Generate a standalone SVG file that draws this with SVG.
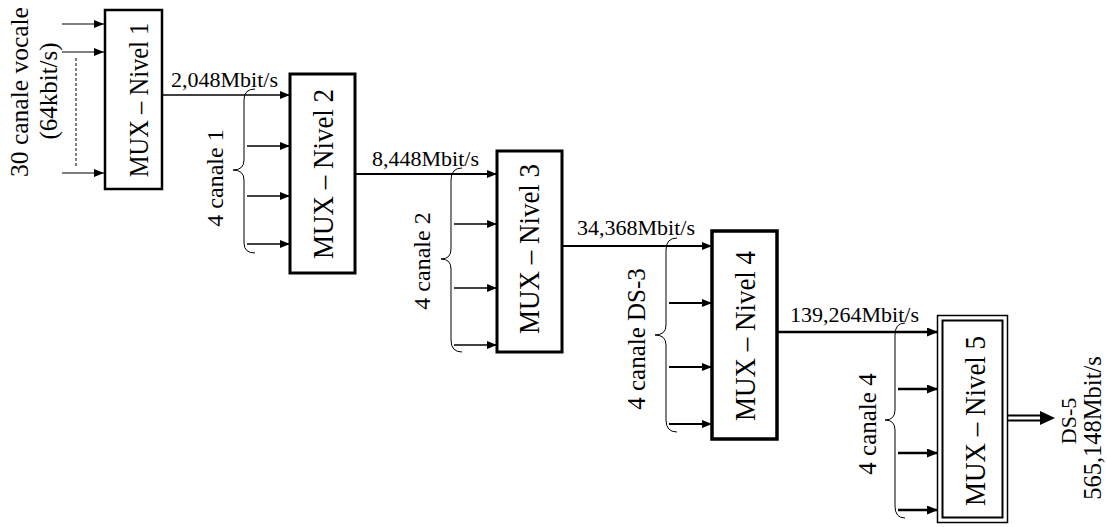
<svg xmlns="http://www.w3.org/2000/svg" width="1107" height="527" viewBox="0 0 1107 527">
<style>
text{font-family:"Liberation Serif","Times New Roman",serif;fill:#000}
.mux{text-anchor:middle}
.lbl{font-size:22px}
.vt{text-anchor:middle}
.box{fill:#fff;stroke:#000}
.ln{stroke:#000;fill:none}
.brace{stroke:#000;fill:none;stroke-width:1}
</style>
<defs>
<marker id="ah" markerUnits="userSpaceOnUse" markerWidth="11" markerHeight="9" refX="10" refY="4" orient="auto">
<path d="M0,0 L10,4 L0,8 z" fill="#000"/>
</marker>
<marker id="ah2" markerUnits="userSpaceOnUse" markerWidth="12" markerHeight="10" refX="11" refY="4.5" orient="auto">
<path d="M0,0 L11,4.5 L0,9 z" fill="#000"/>
</marker>
</defs>

<g id="connectors">
<line class="ln" x1="62" y1="24" x2="104" y2="24" stroke-width="1.2" marker-end="url(#ah)"/>
<line class="ln" x1="62" y1="52" x2="104" y2="52" stroke-width="1.2" marker-end="url(#ah)"/>
<line class="ln" x1="62" y1="173" x2="104" y2="173" stroke-width="1.2" stroke="#555" marker-end="url(#ah)"/>
<line class="ln" x1="76" y1="58" x2="76" y2="167" stroke-width="1" stroke-dasharray="3,2"/>
<line class="ln" x1="162" y1="95" x2="290" y2="95" stroke-width="1.7" marker-end="url(#ah)"/>
<line class="ln" x1="355" y1="174" x2="497" y2="174" stroke-width="2" marker-end="url(#ah)"/>
<line class="ln" x1="562" y1="246" x2="712" y2="246" stroke-width="2" marker-end="url(#ah)"/>
<line class="ln" x1="777" y1="332" x2="938" y2="332" stroke-width="2.7" marker-end="url(#ah2)"/>
<line class="ln" x1="247" y1="146" x2="290" y2="146" stroke-width="1.5" marker-end="url(#ah)"/>
<line class="ln" x1="247" y1="196" x2="290" y2="196" stroke-width="1.5" marker-end="url(#ah)"/>
<line class="ln" x1="247" y1="244" x2="290" y2="244" stroke-width="1.5" marker-end="url(#ah)"/>
<line class="ln" x1="454" y1="224" x2="497" y2="224" stroke-width="1.7" marker-end="url(#ah)"/>
<line class="ln" x1="454" y1="288" x2="497" y2="288" stroke-width="1.7" marker-end="url(#ah)"/>
<line class="ln" x1="454" y1="345" x2="497" y2="345" stroke-width="1.7" marker-end="url(#ah)"/>
<line class="ln" x1="669" y1="303" x2="712" y2="303" stroke-width="2" marker-end="url(#ah)"/>
<line class="ln" x1="669" y1="367" x2="712" y2="367" stroke-width="2" marker-end="url(#ah)"/>
<line class="ln" x1="669" y1="424" x2="712" y2="424" stroke-width="2" marker-end="url(#ah)"/>
<line class="ln" x1="898" y1="389" x2="938" y2="389" stroke-width="2.5" marker-end="url(#ah2)"/>
<line class="ln" x1="898" y1="453" x2="938" y2="453" stroke-width="2.5" marker-end="url(#ah2)"/>
<line class="ln" x1="898" y1="510" x2="938" y2="510" stroke-width="2.5" marker-end="url(#ah2)"/>
<line class="ln" x1="1008" y1="415.5" x2="1042" y2="415.5" stroke-width="1.8"/>
<line class="ln" x1="1008" y1="420.5" x2="1042" y2="420.5" stroke-width="1.8"/>
<path d="M1040,411 L1055,418 L1040,425 z" fill="#000"/>
</g>

<g id="braces">
<path class="brace" d="M255,89 Q244,89 244,100 L244,160 Q244,170 233,170 Q244,170 244,180 L244,243 Q244,253 255,253"/>
<path class="brace" d="M462,168 Q451,168 451,180 L451,249 Q451,259 441,259 Q451,259 451,269 L451,340 Q451,352 462,352"/>
<path class="brace" d="M677,238 Q666,238 666,250 L666,325 Q666,335 655,335 Q666,335 666,345 L666,420 Q666,432 677,432"/>
<path class="brace" d="M905,323 Q895,323 895,335 L895,410 Q895,420 885,420 Q895,420 895,430 L895,506 Q895,518 905,518"/>
</g>

<g id="labels">
<text class="lbl" x="171" y="87">2,048Mbit/s</text>
<text class="lbl" x="372" y="166">8,448Mbit/s</text>
<text class="lbl" x="577" y="235">34,368Mbit/s</text>
<text class="lbl" x="790" y="322">139,264Mbit/s</text>
<text class="vt" font-size="25.5" transform="translate(28,92) rotate(-90)">30 canale vocale</text>
<text class="vt" font-size="25" transform="translate(57,91) rotate(-90)">(64kbit/s)</text>
<text class="vt" font-size="24" transform="translate(223,178) rotate(-90)">4 canale 1</text>
<text class="vt" font-size="24" transform="translate(430,261) rotate(-90)">4 canale 2</text>
<text class="vt" font-size="25" transform="translate(645,339) rotate(-90)">4 canale DS-3</text>
<text class="vt" font-size="25" transform="translate(876,424) rotate(-90)">4 canale 4</text>
<text class="vt" font-size="22" transform="translate(1076,421) rotate(-90)">DS-5</text>
<text class="vt" font-size="24.5" transform="translate(1101,428) rotate(-90)">565,148Mbit/s</text>
</g>

<g id="mux1">
<rect class="box" x="105" y="10" width="57" height="179" stroke-width="2.5"/>
<text class="mux" font-size="24.5" transform="translate(148,100) rotate(-90) scale(1,1.1)">MUX – Nivel 1</text>
</g>
<g id="mux2">
<rect class="box" x="290" y="74" width="65" height="199" stroke-width="3"/>
<text class="mux" font-size="27" transform="translate(333,174) rotate(-90) scale(1,1.08)">MUX – Nivel 2</text>
</g>
<g id="mux3">
<rect class="box" x="497" y="151" width="65" height="201" stroke-width="3"/>
<text class="mux" font-size="27" transform="translate(539,249) rotate(-90) scale(1,1.08)">MUX – Nivel 3</text>
</g>
<g id="mux4">
<rect class="box" x="712" y="231" width="65" height="208" stroke-width="3.5"/>
<text class="mux" font-size="27" transform="translate(755,336) rotate(-90) scale(1,1.08)">MUX – Nivel 4</text>
</g>
<g id="mux5">
<rect class="box" x="937.5" y="315.5" width="70" height="207" stroke-width="1.5"/>
<rect x="942.5" y="320.5" width="60" height="197" fill="none" stroke="#000" stroke-width="2"/>
<text class="mux" font-size="27" transform="translate(985,421) rotate(-90) scale(1,1.08)">MUX – Nivel 5</text>
</g>
</svg>
